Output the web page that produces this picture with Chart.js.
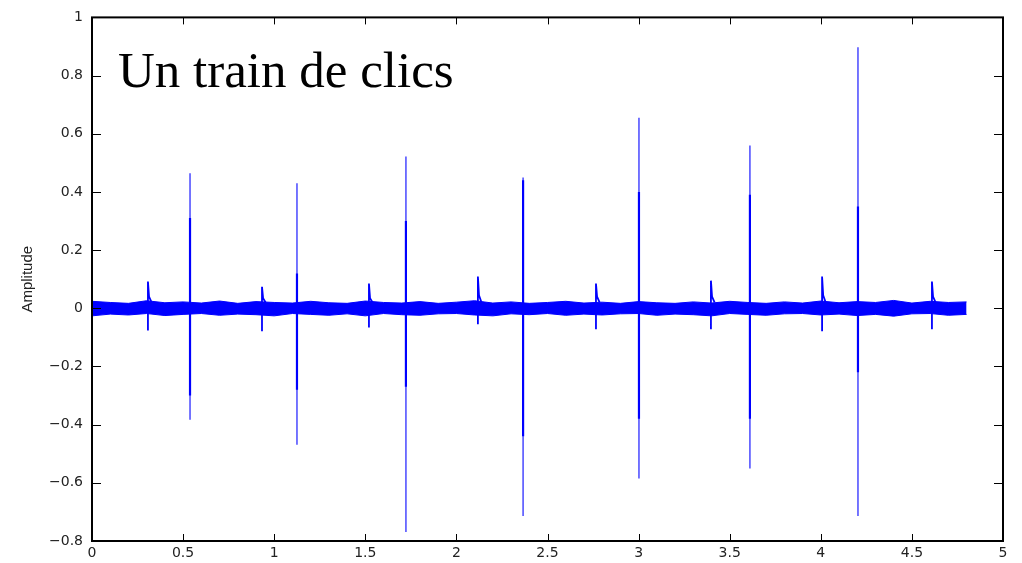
<!DOCTYPE html>
<html>
<head>
<meta charset="utf-8">
<script src="https://cdn.jsdelivr.net/npm/chart.js@4.4.0/dist/chart.umd.min.js"></script>
<style>
  html, body { margin: 0; padding: 0; background: #fff; }
  #wrap { width: 1022px; height: 563px; }
</style>
</head>
<body>
<div id="wrap"><canvas id="clics" width="1022" height="563"></canvas></div>
<script>
// noise band envelope, read roughly every 0.1 s
const noiseX = [0,0.1,0.2,0.3,0.4,0.5,0.6,0.7,0.8,0.9,1.0,1.1,1.2,1.3,1.4,1.5,1.6,1.7,1.8,1.9,2.0,2.1,2.2,2.3,2.4,2.5,2.6,2.7,2.8,2.9,3.0,3.1,3.2,3.3,3.4,3.5,3.6,3.7,3.8,3.9,4.0,4.1,4.2,4.3,4.4,4.5,4.6,4.7,4.8]
const noiseTop = [0.024,0.02,0.017,0.026,0.019,0.022,0.018,0.025,0.017,0.023,0.02,0.018,0.024,0.019,0.017,0.025,0.02,0.018,0.023,0.017,0.021,0.026,0.018,0.022,0.017,0.02,0.024,0.018,0.021,0.017,0.023,0.019,0.017,0.022,0.018,0.024,0.02,0.017,0.022,0.018,0.025,0.019,0.023,0.02,0.027,0.018,0.024,0.02,0.022]
const noiseBottom = [-0.026,-0.02,-0.023,-0.018,-0.025,-0.021,-0.018,-0.024,-0.02,-0.022,-0.026,-0.018,-0.021,-0.024,-0.019,-0.026,-0.018,-0.022,-0.024,-0.019,-0.018,-0.023,-0.026,-0.019,-0.022,-0.018,-0.024,-0.02,-0.023,-0.019,-0.018,-0.024,-0.02,-0.022,-0.026,-0.018,-0.021,-0.024,-0.019,-0.018,-0.023,-0.02,-0.025,-0.021,-0.027,-0.019,-0.018,-0.024,-0.021]

// big clicks
const bigX = [0.538, 1.125, 1.723, 2.366, 3.002, 3.611, 4.204]
const bigTop = [0.464, 0.43, 0.522, 0.45, 0.655, 0.56, 0.897]
const bigBottom = [-0.383, -0.469, -0.769, -0.714, -0.585, -0.551, -0.714]
const bigInnerTop = [0.31, 0.12, 0.3, 0.44, 0.4, 0.39, 0.35]
const bigInnerBottom = [-0.3, -0.28, -0.27, -0.44, -0.38, -0.38, -0.22]

// small clicks with a short decaying tail
const smallX = [0.307, 0.933, 1.52, 2.118, 2.766, 3.397, 4.007, 4.61]
const smallTop = [0.092, 0.074, 0.085, 0.109, 0.085, 0.095, 0.109, 0.092]
const smallBottom = [-0.076, -0.079, -0.066, -0.055, -0.072, -0.072, -0.079, -0.072]
const smallTail = [0.04, 0.035, 0.035, 0.045, 0.04, 0.04, 0.045, 0.04]

const xTicks = [0, 0.5, 1, 1.5, 2, 2.5, 3, 3.5, 4, 4.5, 5]
const yTicks = [-0.8, -0.6, -0.4, -0.2, 0, 0.2, 0.4, 0.6, 0.8, 1]

const blue = '#0000ff'

function spikes(xs, tops, bottoms) {
    let pts = []
    for (let i = 0; i < xs.length; i++) {
        pts.push({x: xs[i], y: bottoms[i]}, {x: xs[i], y: tops[i]}, {x: xs[i], y: null})
    }
    return pts
}

let smallPts = []
for (let i = 0; i < smallX.length; i++) {
    smallPts.push(
        {x: smallX[i], y: smallBottom[i]},
        {x: smallX[i], y: smallTop[i]},
        {x: smallX[i] + 0.006, y: smallTail[i]},
        {x: smallX[i] + 0.02, y: 0.02},
        {x: smallX[i], y: null}
    )
}

function tickLabel(v) {
    let s = String(+Number(v).toFixed(2))
    return s.replace('-', '\u2212')
}

// MATLAB style frame, inward ticks and the big caption
const frame = {
    id: 'frame',
    afterDraw(chart) {
        const c = chart.ctx
        const a = chart.chartArea
        const xs = chart.scales.x, ys = chart.scales.y
        c.save()
        c.strokeStyle = '#000'
        c.lineWidth = 1
        c.beginPath()
        xTicks.forEach(v => {
            const px = Math.round(xs.getPixelForValue(v)) + 0.5
            c.moveTo(px, a.bottom); c.lineTo(px, a.bottom - 7)
            c.moveTo(px, a.top); c.lineTo(px, a.top + 7)
        })
        yTicks.forEach(v => {
            const py = Math.round(ys.getPixelForValue(v)) + 0.5
            c.moveTo(a.left, py); c.lineTo(a.left + 9, py)
            c.moveTo(a.right, py); c.lineTo(a.right - 9, py)
        })
        c.stroke()
        c.lineWidth = 2
        c.strokeRect(a.left, a.top, a.right - a.left, a.bottom - a.top)
        c.fillStyle = '#000'
        c.font = '51px "Liberation Serif", "Times New Roman", serif'
        c.textBaseline = 'alphabetic'
        c.fillText('Un train de clics', 118, 87)
        c.restore()
    }
}

const ctx = document.getElementById('clics')

let config = {
    type: 'line',
    data: {
        datasets: [
            {
                label: 'big inner',
                data: spikes(bigX, bigInnerTop, bigInnerBottom),
                borderColor: blue,
                borderWidth: 2.2,
                pointRadius: 0,
                spanGaps: false,
                fill: false
            },
            {
                label: 'big',
                data: spikes(bigX, bigTop, bigBottom),
                borderColor: 'rgba(0,0,255,0.72)',
                borderWidth: 1.5,
                pointRadius: 0,
                spanGaps: false,
                fill: false
            },
            {
                label: 'small',
                data: smallPts,
                borderColor: blue,
                borderWidth: 1.8,
                pointRadius: 0,
                spanGaps: false,
                fill: false
            },
            {
                label: 'noise top',
                data: noiseX.map((x, i) => ({x: x, y: noiseTop[i]})),
                borderColor: blue,
                backgroundColor: blue,
                borderWidth: 1,
                pointRadius: 0,
                tension: 0,
                fill: '+1'
            },
            {
                label: 'noise bottom',
                data: noiseX.map((x, i) => ({x: x, y: noiseBottom[i]})),
                borderColor: blue,
                borderWidth: 1,
                pointRadius: 0,
                tension: 0,
                fill: false
            }
        ]
    },
    options: {
        responsive: false,
        animation: false,
        layout: { padding: { left: 0, top: 14, right: 19, bottom: 0 } },
        plugins: {
            legend: { display: false },
            tooltip: { enabled: false }
        },
        scales: {
            x: {
                type: 'linear',
                min: 0,
                max: 5,
                afterFit: (s) => { s.height = 22 },
                afterBuildTicks: (s) => { s.ticks = xTicks.map(v => ({value: v})) },
                grid: { display: false, drawTicks: false },
                border: { display: false },
                ticks: {
                    padding: 4,
                    color: '#222',
                    font: { family: '"DejaVu Sans", sans-serif', size: 14 },
                    maxRotation: 0,
                    autoSkip: false,
                    callback: tickLabel
                }
            },
            y: {
                type: 'linear',
                min: -0.8,
                max: 1,
                afterFit: (s) => { s.width = 92 },
                afterBuildTicks: (s) => { s.ticks = yTicks.map(v => ({value: v})) },
                grid: { display: false, drawTicks: false },
                border: { display: false },
                title: {
                    display: true,
                    text: 'Amplitude',
                    color: '#222',
                    font: { family: '"Liberation Sans", Arial, sans-serif', size: 15 },
                    padding: { top: 19, bottom: 0 }
                },
                ticks: {
                    padding: 9,
                    color: '#222',
                    font: { family: '"DejaVu Sans", sans-serif', size: 14 },
                    autoSkip: false,
                    callback: tickLabel
                }
            }
        }
    },
    plugins: [frame]
};

const chart = new Chart(ctx, config)
</script>
</body>
</html>
